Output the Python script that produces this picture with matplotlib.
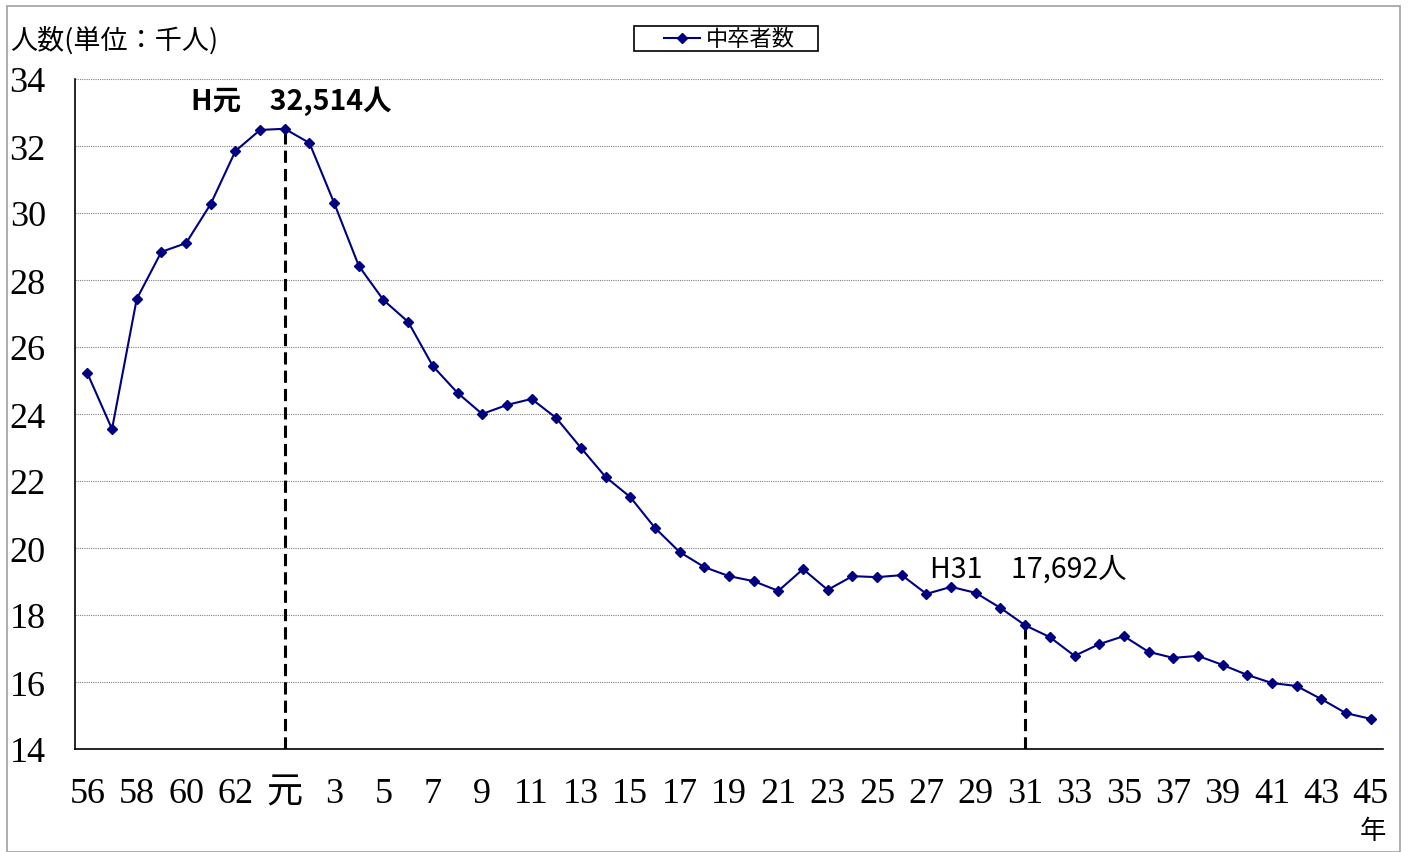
import matplotlib
matplotlib.use("Agg")
import matplotlib.pyplot as plt
from matplotlib.patches import Rectangle

plt.rcParams['font.family'] = ['Liberation Serif', 'Noto Sans CJK JP']

years = ['56', '57', '58', '59', '60', '61', '62', '63', '元'] + [str(i) for i in range(2, 46)]
values = [25.22, 23.55, 27.43, 28.84, 29.10, 30.27, 31.85, 32.48, 32.514, 32.09,
          30.30, 28.42, 27.40, 26.75, 25.43, 24.63, 24.00, 24.27, 24.45, 23.88,
          22.99, 22.12, 21.52, 20.60, 19.88, 19.43, 19.16, 19.01, 18.72, 19.37,
          18.75, 19.16, 19.13, 19.19, 18.63, 18.84, 18.66, 18.21, 17.692, 17.34,
          16.78, 17.13, 17.37, 16.90, 16.72, 16.78, 16.51, 16.21, 15.97, 15.88,
          15.49, 15.07, 14.90]
series_name = '中卒者数'
y_ticks = [14, 16, 18, 20, 22, 24, 26, 28, 30, 32, 34]
highlights = [('元', 'H元　32,514人', 'bold'), ('31', 'H31　17,692人', 'normal')]

fig = plt.figure(figsize=(14.1, 8.53), dpi=100)
ax = fig.add_axes([75/1410, 1-750/853, (1383-75)/1410, (750-80)/853])

x = list(range(len(years)))
ax.plot(x, values, color='#000080', lw=1.5, marker='D', ms=5.5,
        mfc='#000080', mec='#000080', label=series_name, zorder=3)

ax.set_xlim(-0.5, len(years) - 0.5)
ax.set_ylim(14, 34)
ax.set_yticks(y_ticks)
ax.set_yticklabels([str(v) for v in y_ticks], fontsize=26)
ax.set_xticks(x[::2])
ax.set_xticklabels(years[::2], fontsize=26)
ax.tick_params(axis='x', length=0, pad=20)
ax.tick_params(axis='y', length=0, pad=21)

ax.yaxis.grid(True, color='#808080', ls=(0, (1, 1)), lw=0.8)
ax.set_axisbelow(True)
for s in ['top', 'right']:
    ax.spines[s].set_visible(False)
for s in ['left', 'bottom']:
    ax.spines[s].set_color('black')
    ax.spines[s].set_linewidth(1.2)

for yr, text, weight in highlights:
    i = years.index(yr)
    ax.plot([i, i], [14, values[i]], color='black', ls=(0, (4, 2)), lw=2.2, zorder=2)

ax.text(years.index('元') - 3.8, 33.37, highlights[0][1], fontsize=20.5, fontweight='bold',
        family=['Noto Sans CJK JP'], va='center', ha='left')
ax.text(years.index('31') - 3.85, 19.38, highlights[1][1], fontsize=20.5,
        family=['Noto Sans CJK JP'], va='center', ha='left')

fig.text(10/1410, 1-41/853, '人数(単位：千人)', fontsize=19.5, family=['Noto Sans CJK JP'],
         va='center', ha='left')
fig.text(1373/1410, 1-832/853, '年', fontsize=19, family=['Noto Sans CJK JP'],
         va='center', ha='center')

leg = fig.legend(loc='center left', bbox_to_anchor=(664/1410, 1-40/853),
                 frameon=False, handlelength=1.6, borderpad=0.0, borderaxespad=0.0,
                 handletextpad=0.3, prop={'family': ['Noto Sans CJK JP'], 'size': 16})
fig.patches.append(Rectangle((634/1410, 1-52/853), (818-634)/1410, 25/853,
                             transform=fig.transFigure, fill=False, edgecolor='black', lw=1.2))

fig.patches.append(Rectangle((7/1410, 0), (1400-7)/1410, 1-7/853, transform=fig.transFigure,
                             fill=False, edgecolor='#a0a0a0', lw=1.2))

fig.savefig('out.png', dpi=100)
